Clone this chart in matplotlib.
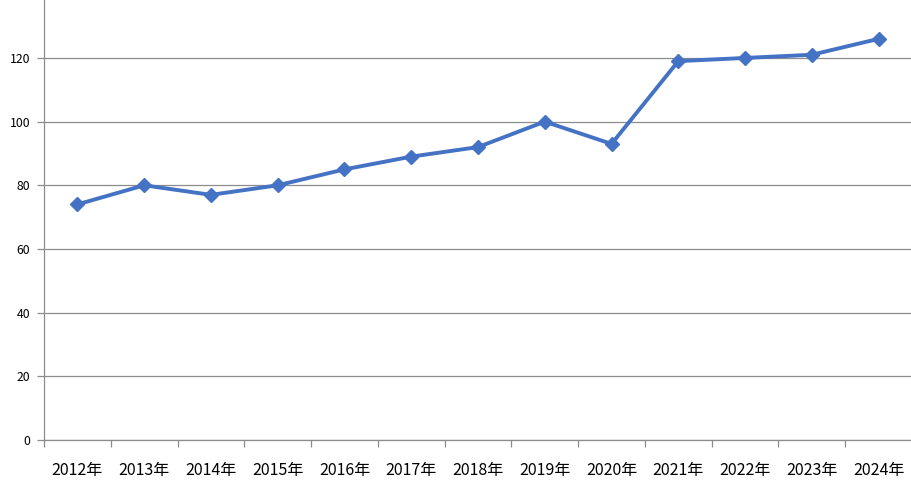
import numpy as np
import matplotlib
matplotlib.use('Agg')
import matplotlib.pyplot as plt
from matplotlib.ticker import FixedLocator

plt.rcParams['font.family'] = ['Noto Sans CJK SC', 'DejaVu Sans']

years = ['2012年', '2013年', '2014年', '2015年', '2016年', '2017年', '2018年',
         '2019年', '2020年', '2021年', '2022年', '2023年', '2024年']
values = [74, 80, 77, 80, 85, 89, 92, 100, 93, 119, 120, 121, 126]
y_ticks = [0, 20, 40, 60, 80, 100, 120]

fig = plt.figure(figsize=(9.12, 4.86), dpi=100, facecolor='w')
ax = fig.add_axes([44 / 912, 46 / 486, 1 - 44 / 912, 1 - 46 / 486])

x = np.arange(len(years))
ax.plot(x, values, color='#4472C4', linewidth=2.8, marker='D', markersize=7,
        markerfacecolor='#4472C4', markeredgecolor='#4472C4', zorder=3)

ax.set_xlim(-0.5, len(years) - 0.5)
ax.set_ylim(0, 138.2)
ax.set_yticks(y_ticks)
ax.set_yticklabels([str(v) for v in y_ticks], fontsize=8.8)
ax.grid(axis='y', color='#8c8c8c', linewidth=0.9)
ax.set_axisbelow(True)

ax.set_xticks(x)
ax.set_xticklabels(years, fontsize=11.5)
ax.tick_params(axis='x', which='major', length=0, pad=16)
ax.xaxis.set_minor_locator(FixedLocator(np.arange(-0.5, len(years), 1.0)))
ax.tick_params(axis='x', which='minor', length=5, color='#8c8c8c', width=0.9)
ax.tick_params(axis='y', length=5, color='#8c8c8c', width=0.9, pad=5)

for s in ['top', 'right']:
    ax.spines[s].set_visible(False)
for s in ['left', 'bottom']:
    ax.spines[s].set_color('#8c8c8c')
    ax.spines[s].set_linewidth(0.9)

fig.savefig('out.png', dpi=100, facecolor='w')
